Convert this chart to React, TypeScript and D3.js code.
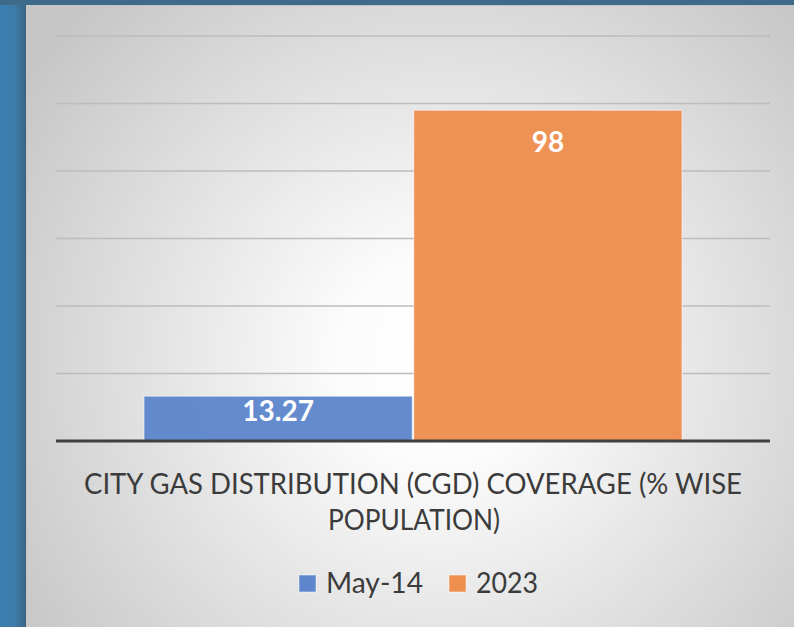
import React from 'react';
import { scaleBand, scaleLinear, range } from 'd3';

// chart data
const categories = ['CGD'];
const seriesNames = ['May-14', '2023'];
const seriesValues = [13.27, 98];
const seriesColors = ['#5e86cc', '#ee8e4f'];
const titleLines = ['CITY GAS DISTRIBUTION (CGD) COVERAGE (% WISE', 'POPULATION)'];
const yTicks = range(0, 121, 20);

const W = 794;
const H = 627;
const margin = { top: 36, right: 24, bottom: 186, left: 56 };
const FONT = 'Lato, "Open Sans", sans-serif';

const App = () => {
  const plotW = W - margin.left - margin.right;
  const baseY = H - margin.bottom;

  const yScale = scaleLinear().domain([0, 120]).range([baseY, margin.top]);

  const x0 = scaleBand()
    .domain(categories)
    .range([margin.left, margin.left + plotW])
    .paddingInner(0)
    .paddingOuter(0.1636);

  const x1 = scaleBand()
    .domain(seriesNames)
    .range([0, x0.bandwidth()])
    .paddingInner(0.006);

  // legend layout
  const legendItems = [
    { name: seriesNames[0], color: seriesColors[0], x: 299, textLen: 97 },
    { name: seriesNames[1], color: seriesColors[1], x: 449, textLen: 62 },
  ];

  return (
    <svg
      width={W}
      height={H}
      style={{ position: 'absolute', left: 0, top: 0, display: 'block' }}
    >
      <defs>
        <linearGradient id="leftBlue" x1="0" y1="0" x2="26" y2="0" gradientUnits="userSpaceOnUse">
          <stop offset="0" stopColor="#3b80b2" />
          <stop offset="0.6" stopColor="#3c7aa8" />
          <stop offset="1" stopColor="#3a6482" />
        </linearGradient>
        <radialGradient id="cardBg" gradientUnits="userSpaceOnUse" cx={440} cy={360} r={500}>
          <stop offset="0" stopColor="#ffffff" />
          <stop offset="0.2" stopColor="#fcfcfc" />
          <stop offset="1" stopColor="#c6c6c6" />
        </radialGradient>
      </defs>

      {/* slide background */}
      <rect x={0} y={0} width={W} height={H} fill="url(#leftBlue)" />
      <rect x={0} y={0} width={W} height={5} fill="#3f6b8b" />
      <rect x={26} y={5} width={W - 26} height={H - 5} fill="#c4c4c4" />
      <rect x={27} y={6} width={W - 27} height={H - 6} fill="url(#cardBg)" />

      {/* gridlines */}
      {yTicks.slice(1).map(t => (
        <line
          key={t}
          x1={margin.left}
          x2={margin.left + plotW}
          y1={yScale(t)}
          y2={yScale(t)}
          stroke="#bdbdbd"
          strokeWidth={1.3}
        />
      ))}

      {/* bars */}
      {categories.map(cat =>
        seriesNames.map((s, i) => {
          const v = seriesValues[i];
          const bx = (x0(cat) || 0) + (x1(s) || 0);
          const by = yScale(v);
          return (
            <rect
              key={s}
              x={bx}
              y={by}
              width={x1.bandwidth()}
              height={baseY - by}
              fill={seriesColors[i]}
              fillOpacity={0.96}
              stroke="#ffffff"
              strokeOpacity={0.55}
              strokeWidth={1}
            />
          );
        })
      )}

      {/* baseline */}
      <line
        x1={margin.left}
        x2={margin.left + plotW}
        y1={baseY}
        y2={baseY}
        stroke="#404040"
        strokeWidth={3}
      />

      {/* data labels */}
      {categories.map(cat =>
        seriesNames.map((s, i) => {
          const v = seriesValues[i];
          const cx = (x0(cat) || 0) + (x1(s) || 0) + x1.bandwidth() / 2;
          const ly = Math.min(yScale(v) + 42, baseY - 20);
          return (
            <text
              key={s}
              x={cx}
              y={ly}
              textAnchor="middle"
              fill="#ffffff"
              fontFamily={FONT}
              fontWeight={700}
              fontSize={28}
            >
              {v}
            </text>
          );
        })
      )}

      {/* category title */}
      <text
        x={413}
        y={494}
        textAnchor="middle"
        fill="#3b3b3b"
        fontFamily={FONT}
        fontSize={29}
        textLength={658}
        lengthAdjust="spacingAndGlyphs"
      >
        {titleLines[0]}
      </text>
      <text
        x={414}
        y={530}
        textAnchor="middle"
        fill="#3b3b3b"
        fontFamily={FONT}
        fontSize={29}
        textLength={172}
        lengthAdjust="spacingAndGlyphs"
      >
        {titleLines[1]}
      </text>

      {/* legend */}
      {legendItems.map(item => (
        <g key={item.name}>
          <rect
            x={item.x}
            y={575}
            width={17}
            height={17}
            fill={item.color}
            stroke="#ffffff"
            strokeOpacity={0.5}
          />
          <text
            x={item.x + 27}
            y={593}
            fill="#3b3b3b"
            fontFamily={FONT}
            fontSize={29}
            textLength={item.textLen}
            lengthAdjust="spacingAndGlyphs"
          >
            {item.name}
          </text>
        </g>
      ))}
    </svg>
  );
};

export default App;
